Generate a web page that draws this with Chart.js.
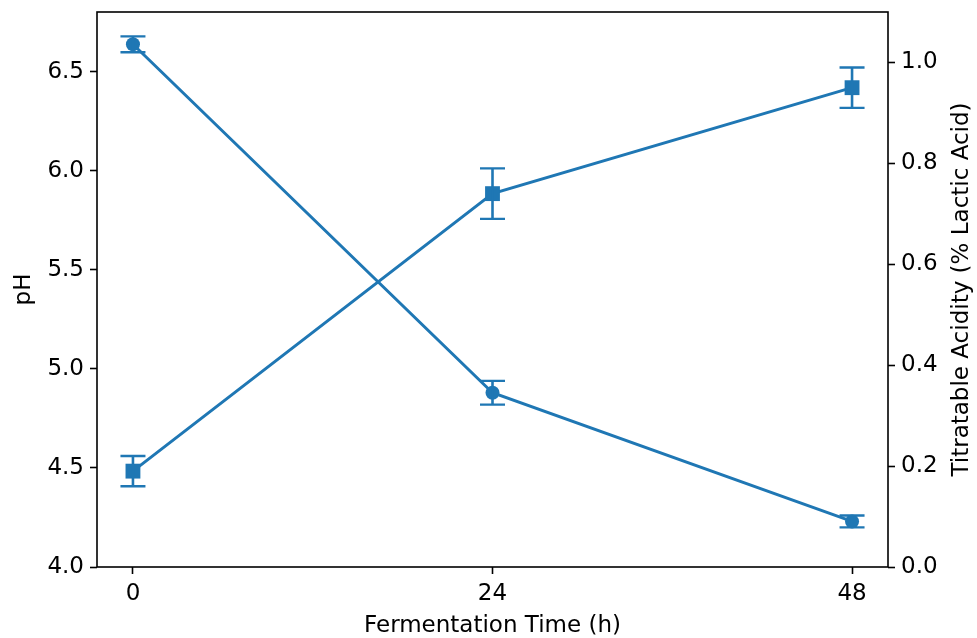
<!DOCTYPE html>
<html>
<head>
<meta charset="utf-8">
<script src="https://cdn.jsdelivr.net/npm/chart.js@4"></script>
<style>
  html, body { margin: 0; padding: 0; background: #fff; }
  #wrap { width: 977px; height: 638px; }
</style>
</head>
<body>
<div id="wrap"><canvas id="chart"></canvas></div>
<script>
  // Werte
  const times = [0, 24, 48];
  const timeTicks = [0, 24, 48];
  const phValues = [6.64, 4.88, 4.23];
  const phErrors = [0.04, 0.06, 0.03];
  const acidityValues = [0.19, 0.74, 0.95];
  const acidityErrors = [0.03, 0.05, 0.04];
  const phTicks = [4.0, 4.5, 5.0, 5.5, 6.0, 6.5];
  const acidityTicks = [0.0, 0.2, 0.4, 0.6, 0.8, 1.0];

  const BLUE = '#1f77b4';
  const FONT = { family: '"DejaVu Sans", sans-serif', size: 23 };
  const RIGHT_TITLE = 'Titratable Acidity (% Lactic Acid)';

  const toPoints = (ys) => times.map((t, i) => ({ x: t, y: ys[i] }));

  // Fehlerbalken mit Kappen, über die Skalen der Library positioniert
  const errorBars = {
    id: 'errorBars',
    afterDatasetsDraw(chart) {
      const ctx = chart.ctx;
      const x = chart.scales.x;
      ctx.save();
      ctx.strokeStyle = BLUE;
      chart.data.datasets.forEach((ds) => {
        const y = chart.scales[ds.yAxisID];
        ds.data.forEach((p, i) => {
          const px = x.getPixelForValue(p.x);
          const top = y.getPixelForValue(p.y + ds.errors[i]);
          const bot = y.getPixelForValue(p.y - ds.errors[i]);
          ctx.lineWidth = 2.6;
          ctx.beginPath();
          ctx.moveTo(px, top);
          ctx.lineTo(px, bot);
          ctx.stroke();
          ctx.lineWidth = 2.4;
          ctx.beginPath();
          ctx.moveTo(px - 12.5, top);
          ctx.lineTo(px + 12.5, top);
          ctx.moveTo(px - 12.5, bot);
          ctx.lineTo(px + 12.5, bot);
          ctx.stroke();
        });
      });
      ctx.restore();
    },
  };

  // Rahmen ums Plotfeld wie bei matplotlib, plus rechter Achsentitel
  // (Chart.js dreht rechte Titel andersherum als matplotlib)
  const frame = {
    id: 'frame',
    afterDraw(chart) {
      const { left, top, right, bottom } = chart.chartArea;
      const ctx = chart.ctx;
      ctx.save();
      ctx.strokeStyle = '#000';
      ctx.lineWidth = 1.6;
      ctx.strokeRect(left, top, right - left, bottom - top);
      ctx.translate(962, (top + bottom) / 2);
      ctx.rotate(-Math.PI / 2);
      ctx.fillStyle = '#000';
      ctx.font = `${FONT.size}px ${FONT.family}`;
      ctx.textAlign = 'center';
      ctx.textBaseline = 'middle';
      ctx.fillText(RIGHT_TITLE, 0, 0);
      ctx.restore();
    },
  };

  const fixed = (size) => (scale) => {
    if (scale.isHorizontal()) {
      scale.height = size;
      scale.paddingLeft = 0;
      scale.paddingRight = 0;
    } else {
      scale.width = size;
      scale.paddingTop = 0;
      scale.paddingBottom = 0;
    }
  };

  const tickGrid = {
    drawOnChartArea: false,
    drawTicks: true,
    tickLength: 7,
    tickWidth: 1.6,
    tickColor: '#000',
    color: '#000',
  };

  new Chart(document.getElementById('chart'), {
    type: 'line',
    data: {
      datasets: [
        {
          label: 'pH',
          data: toPoints(phValues),
          errors: phErrors,
          yAxisID: 'y',
          borderColor: BLUE,
          backgroundColor: BLUE,
          borderWidth: 3,
          pointStyle: 'circle',
          pointRadius: 7,
          pointBorderWidth: 0,
        },
        {
          label: 'Titratable Acidity',
          data: toPoints(acidityValues),
          errors: acidityErrors,
          yAxisID: 'y1',
          borderColor: BLUE,
          backgroundColor: BLUE,
          borderWidth: 3,
          pointStyle: 'rect',
          pointRadius: 10.5,
          pointBorderWidth: 0,
        },
      ],
    },
    options: {
      responsive: true,
      maintainAspectRatio: false,
      animation: false,
      layout: { padding: { top: 12, left: 0, right: 0, bottom: 0 } },
      plugins: {
        legend: { display: false },
        tooltip: { enabled: false },
      },
      scales: {
        x: {
          type: 'linear',
          min: -2.4,
          max: 50.4,
          afterBuildTicks: (s) => { s.ticks = timeTicks.map((v) => ({ value: v })); },
          afterFit: fixed(71),
          border: { display: false },
          grid: tickGrid,
          ticks: { color: '#000', font: FONT, padding: 6, maxRotation: 0 },
          title: {
            display: true,
            text: 'Fermentation Time (h)',
            color: '#000',
            font: FONT,
            padding: { top: 0, bottom: -2 },
          },
        },
        y: {
          position: 'left',
          min: 4.0,
          max: 6.803,
          afterBuildTicks: (s) => { s.ticks = phTicks.map((v) => ({ value: v })); },
          afterFit: fixed(97),
          border: { display: false },
          grid: tickGrid,
          ticks: {
            color: '#000',
            font: FONT,
            padding: 6,
            callback: (v) => v.toFixed(1),
          },
          title: {
            display: true,
            text: 'pH',
            color: '#000',
            font: FONT,
            padding: { top: 10, bottom: 0 },
          },
        },
        y1: {
          position: 'right',
          min: 0,
          max: 1.1,
          afterBuildTicks: (s) => { s.ticks = acidityTicks.map((v) => ({ value: v })); },
          afterFit: fixed(89),
          border: { display: false },
          grid: tickGrid,
          ticks: {
            color: '#000',
            font: FONT,
            padding: 6,
            callback: (v) => v.toFixed(1),
          },
        },
      },
    },
    plugins: [errorBars, frame],
  });
</script>
</body>
</html>
